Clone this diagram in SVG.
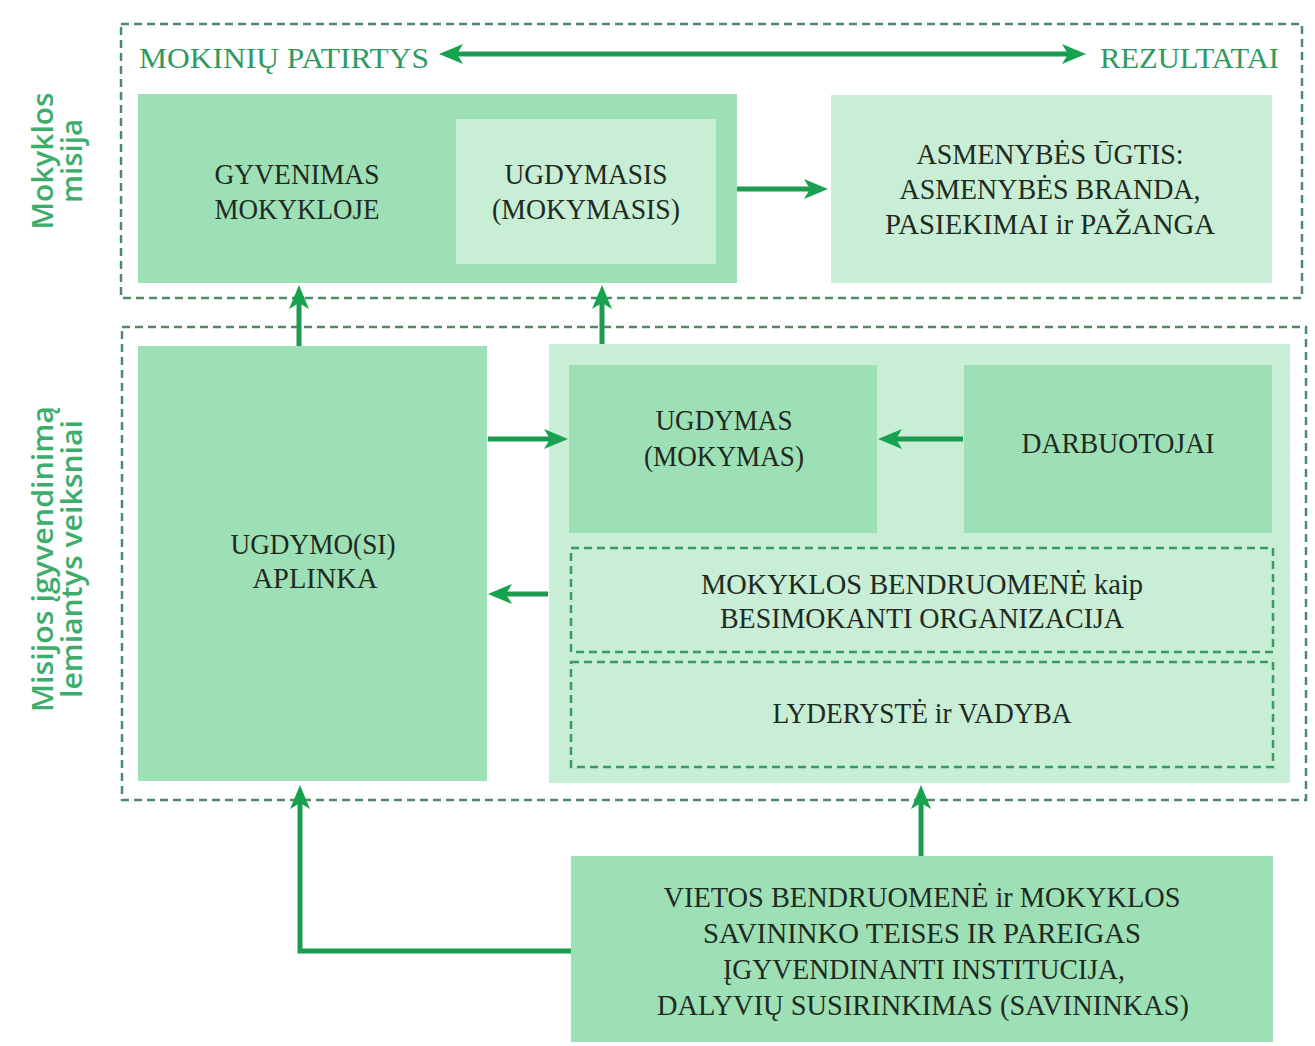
<svg xmlns="http://www.w3.org/2000/svg" width="1315" height="1046" viewBox="0 0 1315 1046">
<defs>
<style>
.mid{fill:#9ee0b5}
.light{fill:#c8eed5}
.dash{fill:none;stroke:#4e8a68;stroke-width:2.5;stroke-dasharray:8 5}
.dashin{fill:none;stroke:#3a9a63;stroke-width:2.5;stroke-dasharray:8 5}
.t{font-family:"Liberation Serif","Times New Roman",serif;font-size:28.5px;fill:#1e2a22;text-anchor:middle}
.g{font-family:"Liberation Serif","Times New Roman",serif;font-size:30px;fill:#2e9a60}
.v{font-family:"Open Sans","Noto Sans",sans-serif;font-weight:600;font-size:28px;fill:#3dad6c;text-anchor:middle}
.arr{fill:none;stroke:#1b9a50;stroke-width:5}
</style>
<marker id="ah" viewBox="0 0 24 20" refX="8" refY="10" markerWidth="24" markerHeight="20" markerUnits="userSpaceOnUse" orient="auto-start-reverse">
<path d="M24,10 L0,0 L6,10 L0,20 Z" fill="#17a24f"/>
</marker>
</defs>
<rect width="1315" height="1046" fill="#ffffff"/>

<g id="frame-mission">
<rect class="dash" x="121" y="24" width="1181" height="274"/>
<text class="g" x="139" y="68" textLength="290" lengthAdjust="spacingAndGlyphs">MOKINIŲ PATIRTYS</text>
<text class="g" x="1100" y="68" textLength="179" lengthAdjust="spacingAndGlyphs">REZULTATAI</text>
<text class="v" transform="translate(53,161) rotate(-90)" textLength="137" lengthAdjust="spacingAndGlyphs">Mokyklos</text>
<text class="v" transform="translate(82,161) rotate(-90)" textLength="84" lengthAdjust="spacingAndGlyphs">misija</text>
</g>

<g id="frame-factors">
<rect class="dash" x="122" y="327" width="1184" height="473"/>
<text class="v" transform="translate(53,559) rotate(-90)" textLength="306" lengthAdjust="spacingAndGlyphs">Misijos įgyvendinimą</text>
<text class="v" transform="translate(82,559) rotate(-90)" textLength="278" lengthAdjust="spacingAndGlyphs">lemiantys veiksniai</text>
</g>

<g id="node-gyvenimas">
<rect class="mid" x="138" y="94" width="599" height="189"/>
<text class="t" x="297" y="184" textLength="165" lengthAdjust="spacingAndGlyphs">GYVENIMAS</text>
<text class="t" x="297" y="219" textLength="165" lengthAdjust="spacingAndGlyphs">MOKYKLOJE</text>
</g>

<g id="node-ugdymasis">
<rect class="light" x="456" y="119" width="260" height="145"/>
<text class="t" x="586" y="184" textLength="163" lengthAdjust="spacingAndGlyphs">UGDYMASIS</text>
<text class="t" x="586" y="219" textLength="188" lengthAdjust="spacingAndGlyphs">(MOKYMASIS)</text>
</g>

<g id="node-asmenybes">
<rect class="light" x="831" y="95" width="441" height="188"/>
<text class="t" x="1050" y="164" textLength="267" lengthAdjust="spacingAndGlyphs">ASMENYBĖS ŪGTIS:</text>
<text class="t" x="1050" y="199" textLength="301" lengthAdjust="spacingAndGlyphs">ASMENYBĖS BRANDA,</text>
<text class="t" x="1050" y="234" textLength="330" lengthAdjust="spacingAndGlyphs">PASIEKIMAI ir PAŽANGA</text>
</g>

<g id="node-aplinka">
<rect class="mid" x="138" y="346" width="349" height="435"/>
<text class="t" x="313" y="554" textLength="165" lengthAdjust="spacingAndGlyphs">UGDYMO(SI)</text>
<text class="t" x="315" y="588" textLength="125" lengthAdjust="spacingAndGlyphs">APLINKA</text>
</g>

<g id="node-container">
<rect class="light" x="549" y="344" width="741" height="439"/>
</g>

<g id="node-ugdymas">
<rect class="mid" x="569" y="365" width="308" height="168"/>
<text class="t" x="724" y="430" textLength="137" lengthAdjust="spacingAndGlyphs">UGDYMAS</text>
<text class="t" x="724" y="466" textLength="160" lengthAdjust="spacingAndGlyphs">(MOKYMAS)</text>
</g>

<g id="node-darbuotojai">
<rect class="mid" x="964" y="365" width="308" height="168"/>
<text class="t" x="1118" y="453" textLength="193" lengthAdjust="spacingAndGlyphs">DARBUOTOJAI</text>
</g>

<g id="node-bendruomene">
<rect class="dashin" x="571" y="548" width="702" height="104"/>
<text class="t" x="922" y="594" textLength="442" lengthAdjust="spacingAndGlyphs">MOKYKLOS BENDRUOMENĖ kaip</text>
<text class="t" x="922" y="628" textLength="404" lengthAdjust="spacingAndGlyphs">BESIMOKANTI ORGANIZACIJA</text>
</g>

<g id="node-lyderyste">
<rect class="dashin" x="571" y="662" width="702" height="105"/>
<text class="t" x="922" y="723" textLength="299" lengthAdjust="spacingAndGlyphs">LYDERYSTĖ ir VADYBA</text>
</g>

<g id="node-vietos">
<rect class="mid" x="571" y="856" width="702" height="186"/>
<text class="t" x="922" y="907" textLength="517" lengthAdjust="spacingAndGlyphs">VIETOS BENDRUOMENĖ ir MOKYKLOS</text>
<text class="t" x="922" y="943" textLength="438" lengthAdjust="spacingAndGlyphs">SAVININKO TEISES IR PAREIGAS</text>
<text class="t" x="924" y="979" textLength="402" lengthAdjust="spacingAndGlyphs">ĮGYVENDINANTI INSTITUCIJA,</text>
<text class="t" x="923" y="1015" textLength="532" lengthAdjust="spacingAndGlyphs">DALYVIŲ SUSIRINKIMAS (SAVININKAS)</text>
</g>

<g id="connectors">
<line class="arr" x1="455" y1="54" x2="1070" y2="54" stroke-width="4" marker-start="url(#ah)" marker-end="url(#ah)"/>
<line class="arr" x1="737" y1="189" x2="812" y2="189" marker-end="url(#ah)"/>
<line class="arr" x1="299" y1="346" x2="299" y2="301" marker-end="url(#ah)"/>
<line class="arr" x1="602" y1="344" x2="602" y2="301" marker-end="url(#ah)"/>
<line class="arr" x1="488" y1="439" x2="552" y2="439" marker-end="url(#ah)"/>
<line class="arr" x1="963" y1="439" x2="894" y2="439" marker-end="url(#ah)"/>
<line class="arr" x1="548" y1="594" x2="504" y2="594" marker-end="url(#ah)"/>
<line class="arr" x1="921" y1="856" x2="921" y2="801" marker-end="url(#ah)"/>
<polyline class="arr" points="571,951 300,951 300,801" marker-end="url(#ah)"/>
</g>
</svg>
